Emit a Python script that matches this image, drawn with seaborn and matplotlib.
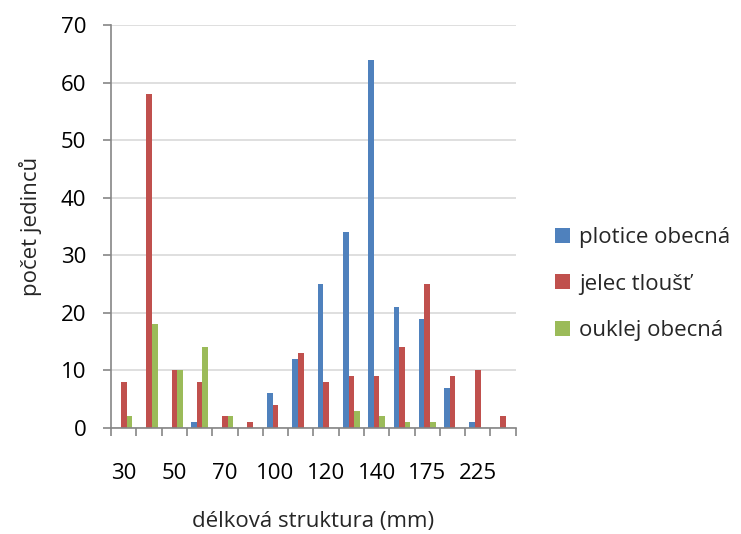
import matplotlib
matplotlib.use("Agg")
import matplotlib.pyplot as plt
import seaborn as sns
import pandas as pd
import numpy as np
from matplotlib.patches import Patch

categories = ["30", "40", "50", "60", "70", "80", "100", "110", "120", "130", "140", "150", "175", "200", "225", "250"]
shown_labels = ["30", "", "50", "", "70", "", "100", "", "120", "", "140", "", "175", "", "225", ""]
plotice = [0, 0, 0, 1, 0, 0, 6, 12, 25, 34, 64, 21, 19, 7, 1, 0]
jelec = [8, 58, 10, 8, 2, 1, 4, 13, 8, 9, 9, 14, 25, 9, 10, 2]
ouklej = [2, 18, 10, 14, 2, 0, 0, 0, 0, 3, 2, 1, 1, 0, 0, 0]
series_names = ["plotice obecná", "jelec tloušť", "ouklej obecná"]
colors = ["#4F81BD", "#C0504D", "#9BBB59"]

df = pd.DataFrame({
    "kat": categories * 3,
    "druh": [series_names[0]] * 16 + [series_names[1]] * 16 + [series_names[2]] * 16,
    "pocet": plotice + jelec + ouklej,
})

sns.set_theme(style="white")
plt.rcParams["font.family"] = ["Open Sans", "DejaVu Sans"]
FS = 16

fig = plt.figure(figsize=(7.41, 5.34), dpi=100)
ax = fig.add_axes([0.150, 0.1985, 0.546, 0.7545])

sns.barplot(data=df, x="kat", y="pocet", hue="druh", order=categories,
            hue_order=series_names, palette=colors, width=0.667,
            saturation=1, ax=ax, legend=False, errorbar=None, linewidth=0)

ax.set_xlim(-0.5, len(categories) - 0.5)
ax.set_ylim(0, 70)
ax.set_yticks(range(0, 71, 10))
ax.yaxis.grid(True, color="#D9D9D9", linewidth=1.2)
ax.set_axisbelow(True)

ax.set_xticks(range(len(categories)))
ax.set_xticklabels(shown_labels)
ax.set_xticks(np.arange(-0.5, len(categories), 1), minor=True)
ax.tick_params(axis="x", which="major", length=0, pad=25, labelsize=FS, colors="black")
ax.tick_params(axis="x", which="minor", length=6, width=1.2, color="#868686", direction="out", bottom=True)
ax.tick_params(axis="y", which="major", length=6, width=1.2, color="#868686", direction="out", left=True, labelsize=FS, pad=12)
for lab in ax.get_yticklabels():
    lab.set_color("black")

for s in ["top", "right"]:
    ax.spines[s].set_visible(False)
for s in ["left", "bottom"]:
    ax.spines[s].set_color("#868686")
    ax.spines[s].set_linewidth(1.2)

ax.set_xlabel("délková struktura (mm)", fontsize=FS, va="center")
ax.xaxis.set_label_coords(0.5, (428 - 522) / 403.0)
ax.set_ylabel("počet jedinců", fontsize=FS, va="center")
ax.yaxis.set_label_coords((30 - 111) / 404.6, 0.5)

handles = [Patch(facecolor=c, edgecolor="none") for c in colors]
fig.legend(handles, series_names, loc="center left", bbox_to_anchor=(0.722, 0.468),
           frameon=False, fontsize=FS, handlelength=0.68, handleheight=0.68,
           labelspacing=1.15, handletextpad=0.4)

fig.savefig("out.png", dpi=100)
